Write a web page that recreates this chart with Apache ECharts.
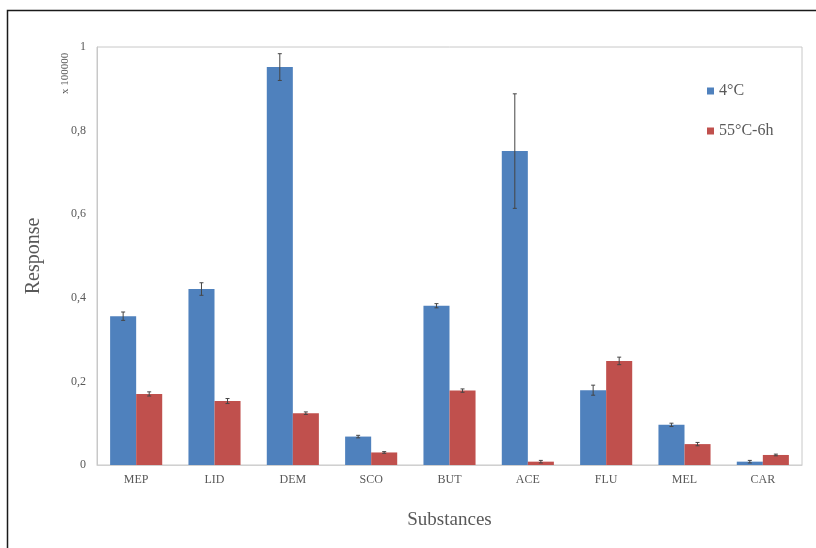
<!DOCTYPE html>
<html>
<head>
<meta charset="utf-8">
<script src="https://cdn.jsdelivr.net/npm/echarts@6/dist/echarts.min.js"></script>
<style>
  html, body { margin: 0; padding: 0; background: #ffffff; }
  #chart { width: 816px; height: 548px; }
</style>
</head>
<body>
<div id="chart"></div>
<script>
// Substances measured and their responses (x 100000) after each storage condition
const categories = ['MEP', 'LID', 'DEM', 'SCO', 'BUT', 'ACE', 'FLU', 'MEL', 'CAR'];
const seriesNames = ['4°C', '55°C-6h'];
const cold = [0.356, 0.421, 0.952, 0.068, 0.381, 0.751, 0.179, 0.096, 0.008];
const coldErr = [0.010, 0.015, 0.032, 0.003, 0.005, 0.137, 0.012, 0.004, 0.003];
const heated = [0.170, 0.153, 0.124, 0.030, 0.178, 0.008, 0.249, 0.050, 0.024];
const heatedErr = [0.005, 0.006, 0.003, 0.002, 0.004, 0.003, 0.009, 0.004, 0.002];
const yTicks = [0, 0.2, 0.4, 0.6, 0.8, 1];

const FONT = '"Liberation Serif", "DejaVu Serif", serif';
const TEXT = '#595959';
const CAT_GAP = 0.335;

// Error bar drawn at the centre of one of the two bars in a category
function errorBars(values, errors, side) {
  const data = values.map((v, i) => [i, v - errors[i], v + errors[i]]);
  return {
    type: 'custom',
    data: data,
    z: 10,
    silent: true,
    renderItem: function (params, api) {
      const idx = api.value(0);
      const catW = api.size([1, 0])[0];
      const barW = catW * (1 - CAT_GAP) / 2;
      const lo = api.coord([idx, api.value(1)]);
      const hi = api.coord([idx, api.value(2)]);
      const x = lo[0] + side * barW / 2;
      const cap = 2;
      const style = { stroke: '#454545', lineWidth: 1 };
      return {
        type: 'group',
        children: [
          { type: 'line', shape: { x1: x, y1: lo[1], x2: x, y2: hi[1] }, style: style },
          { type: 'line', shape: { x1: x - cap, y1: hi[1], x2: x + cap, y2: hi[1] }, style: style },
          { type: 'line', shape: { x1: x - cap, y1: lo[1], x2: x + cap, y2: lo[1] }, style: style }
        ]
      };
    }
  };
}

const chart = echarts.init(document.getElementById('chart'), null, { renderer: 'canvas' });
chart.setOption({
  animation: false,
  backgroundColor: '#ffffff',
  textStyle: { fontFamily: FONT },
  grid: {
    left: 97, right: 14, top: 47, bottom: 83,
    show: true, borderColor: '#c8c8c8', borderWidth: 1
  },
  legend: {
    orient: 'vertical',
    left: 702, top: 78,
    itemGap: 24,
    itemWidth: 7, itemHeight: 7,
    icon: 'rect',
    textStyle: { fontFamily: FONT, fontSize: 16, color: TEXT },
    data: seriesNames
  },
  xAxis: {
    type: 'category',
    data: categories,
    axisLine: { lineStyle: { color: '#d0d0d0' } },
    axisTick: { show: false },
    axisLabel: { fontFamily: FONT, fontSize: 12, color: TEXT, margin: 9 },
    name: 'Substances',
    nameLocation: 'middle',
    nameGap: 46,
    nameTextStyle: { fontFamily: FONT, fontSize: 19, color: TEXT }
  },
  yAxis: {
    type: 'value',
    min: 0, max: 1, interval: 0.2,
    axisLine: { show: true, lineStyle: { color: '#c8c8c8' } },
    axisTick: { show: false },
    splitLine: { show: false },
    axisLabel: {
      fontFamily: FONT, fontSize: 12, color: TEXT, margin: 11,
      formatter: function (v) {
        const t = yTicks.find(k => Math.abs(k - v) < 1e-9);
        return String(t === undefined ? v : t).replace('.', ',');
      }
    },
    name: 'Response',
    nameLocation: 'middle',
    nameRotate: 90,
    nameGap: 53,
    nameTextStyle: { fontFamily: FONT, fontSize: 20, color: TEXT }
  },
  graphic: [
    {
      type: 'rect',
      shape: { x: 7.5, y: 10.5, width: 900, height: 700 },
      style: { fill: 'none', stroke: '#1a1a1a', lineWidth: 1.5 },
      silent: true
    },
    {
      type: 'text',
      x: 65, y: 94,
      rotation: Math.PI / 2,
      style: { text: 'x 100000', font: '11px ' + FONT, fill: TEXT, textAlign: 'left', textVerticalAlign: 'middle' },
      silent: true
    }
  ],
  series: [
    {
      name: seriesNames[0],
      type: 'bar',
      data: cold,
      barGap: '0%',
      barCategoryGap: (CAT_GAP * 100) + '%',
      itemStyle: { color: '#4F81BD' }
    },
    {
      name: seriesNames[1],
      type: 'bar',
      data: heated,
      itemStyle: { color: '#C0504D' }
    },
    errorBars(cold, coldErr, -1),
    errorBars(heated, heatedErr, 1)
  ]
});
</script>
</body>
</html>
